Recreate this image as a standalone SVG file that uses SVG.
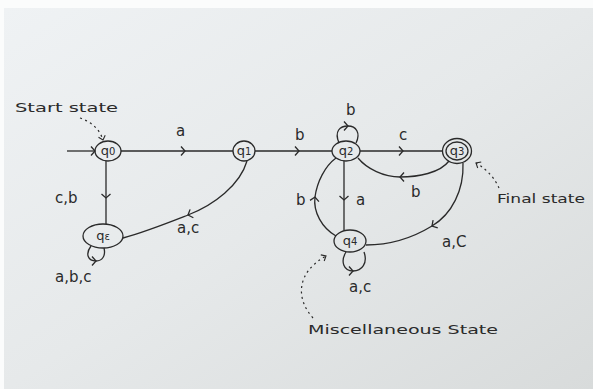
<svg xmlns="http://www.w3.org/2000/svg" width="593" height="389" viewBox="0 0 593 389">
<defs>
<linearGradient id="paper" x1="0" y1="0" x2="1" y2="1">
<stop offset="0" stop-color="#eff2f4"/>
<stop offset="0.5" stop-color="#e6e9ea"/>
<stop offset="1" stop-color="#d8dbdb"/>
</linearGradient>
<marker id="chev" markerUnits="userSpaceOnUse" markerWidth="12" markerHeight="12" viewBox="-6 -6 12 12" orient="auto" overflow="visible">
<path d="M-4,-4.5 L0,0 L-4,4.5" fill="none" stroke="#2a2a2a" stroke-width="1.3"/>
</marker>
<marker id="dhead" markerUnits="userSpaceOnUse" markerWidth="12" markerHeight="12" viewBox="-6 -6 12 12" orient="auto" overflow="visible">
<path d="M-4,-3.5 L0,0 L-4,3.5" fill="none" stroke="#2a2a2a" stroke-width="1.1"/>
</marker>
<style>
.st{fill:none;stroke:#2a2a2a;stroke-width:1.3}
.ed{fill:none;stroke:#2a2a2a;stroke-width:1.3;marker-mid:url(#chev)}
.dot{fill:none;stroke:#2a2a2a;stroke-width:1.2;stroke-dasharray:2 3.5;marker-end:url(#dhead)}
.sl{font-family:"DejaVu Sans","Liberation Sans",sans-serif;font-size:13px;fill:#2a2a2a;text-anchor:middle}
.sub{font-size:10px}
.lb{font-family:"DejaVu Sans","Liberation Sans",sans-serif;font-size:15px;fill:#2a2a2a}
.an{font-family:"DejaVu Sans","Liberation Sans",sans-serif;font-size:13px;fill:#2a2a2a}
</style>
</defs>
<rect x="0" y="0" width="593" height="389" fill="#fbfcfc"/>
<rect x="4" y="8" width="589" height="381" fill="url(#paper)"/>

<g id="connectors">
<path class="st" d="M67,151 L95,151" marker-end="url(#chev)"/>
<path class="ed" d="M121,151 L185,151 L233,151"/>
<path class="ed" d="M255,151 L299,151 L332,151"/>
<path class="ed" d="M360,151 L403,151 L443,151"/>
<path class="ed" d="M339,143 C334,131 340,126 348,126 C356,126 361,133 356,143"/>
<path class="ed" d="M449,161 C440,173 418,177 400,177 C384,177 367,169 358,158"/>
<path class="ed" d="M344,161 L344,200 L344,230"/>
<path class="ed" d="M336,236 C322,228 313,212 315,197 C317,182 325,166 336,158"/>
<path class="ed" d="M463,163 C464,190 452,214 432,226 C414,237 390,245 366,245"/>
<path class="ed" d="M346,252 C340,262 344,271 353,271 C362,271 368,263 364,252"/>
<path class="ed" d="M106,161 L106,198 L106,224"/>
<path class="ed" d="M91,246 C85,254 88,261 96,261 C102,261 106,256 104,248"/>
<path class="ed" d="M247,161 C240,185 214,205 188,215 C165,224 145,232 123,238"/>
<path class="dot" d="M80,118 C92,122 100,130 103,140"/>
<path class="dot" d="M499,188 C495,179 488,170 476,163"/>
<path class="dot" d="M313,318 C295,298 297,272 326,256"/>
</g>

<g id="q0"><ellipse class="st" cx="108" cy="151" rx="13" ry="10"/><text class="sl" x="108" y="155">q<tspan class="sub">0</tspan></text></g>
<g id="q1"><ellipse class="st" cx="244" cy="151" rx="11" ry="10"/><text class="sl" x="244" y="155">q<tspan class="sub">1</tspan></text></g>
<g id="q2"><ellipse class="st" cx="346" cy="151" rx="14" ry="10"/><text class="sl" x="346" y="155">q<tspan class="sub">2</tspan></text></g>
<g id="q3"><ellipse class="st" cx="457" cy="151" rx="14.5" ry="12.5"/><ellipse class="st" cx="457" cy="151" rx="11" ry="9"/><text class="sl" x="457" y="155">q<tspan class="sub">3</tspan></text></g>
<g id="q4"><ellipse class="st" cx="350" cy="241" rx="16" ry="11"/><text class="sl" x="350" y="245">q<tspan class="sub">4</tspan></text></g>
<g id="qe"><ellipse class="st" cx="103" cy="236" rx="20" ry="12"/><text class="sl" x="103" y="240">q<tspan class="sub">ε</tspan></text></g>

<g id="labels">
<text class="lb" x="176" y="136">a</text>
<text class="lb" x="295" y="140">b</text>
<text class="lb" x="346" y="115">b</text>
<text class="lb" x="399" y="140">c</text>
<text class="lb" x="411" y="197">b</text>
<text class="lb" x="356" y="205">a</text>
<text class="lb" x="296" y="205">b</text>
<text class="lb" x="442" y="247">a,C</text>
<text class="lb" x="349" y="292">a,c</text>
<text class="lb" x="55" y="203">c,b</text>
<text class="lb" x="177" y="233">a,c</text>
<text class="lb" x="55" y="282">a,b,c</text>
<text class="an" x="15" y="112" textLength="103" lengthAdjust="spacingAndGlyphs">Start state</text>
<text class="an" x="497" y="203" textLength="88" lengthAdjust="spacingAndGlyphs">Final state</text>
<text class="an" x="308" y="334" textLength="190" lengthAdjust="spacingAndGlyphs">Miscellaneous State</text>
</g>
</svg>
